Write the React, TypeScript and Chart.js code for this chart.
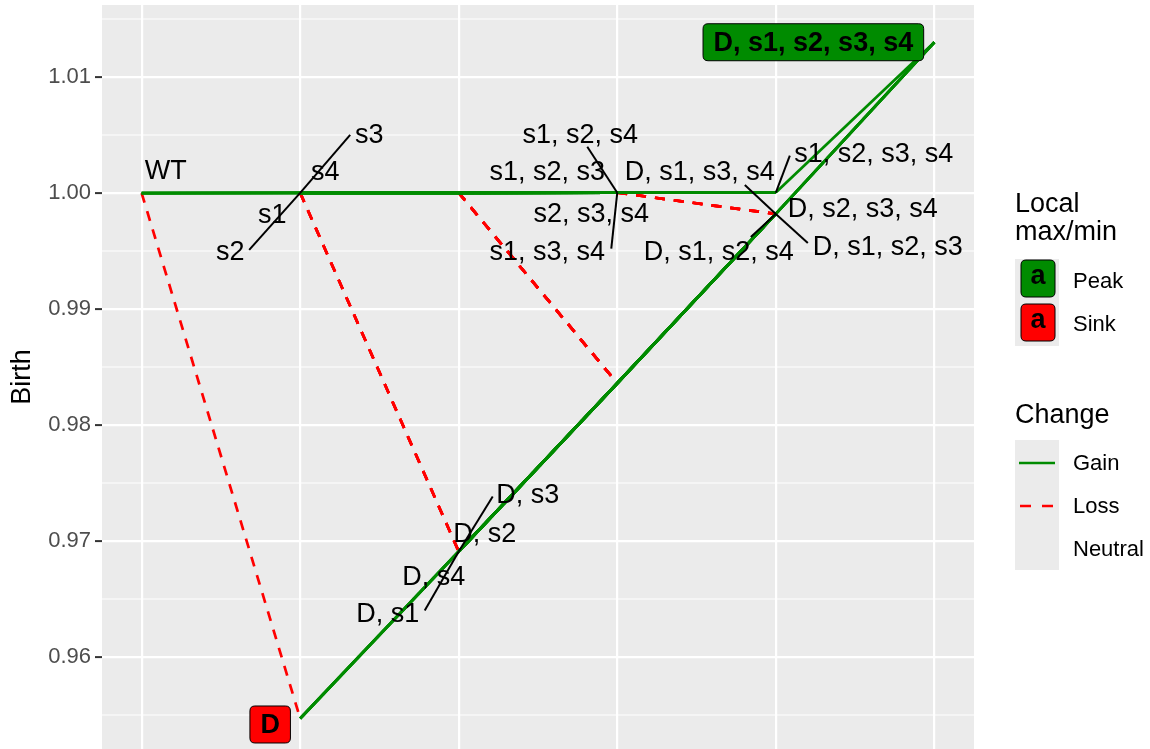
import { useEffect, useRef } from 'react';
import { Chart, registerables } from 'chart.js';

Chart.register(...registerables);

// ---------- data ----------
const GENOTYPES = [
  'WT',
  'D', 's1', 's2', 's3', 's4',
  'D, s1', 'D, s2', 'D, s3', 'D, s4',
  's1, s2', 's1, s3', 's1, s4', 's2, s3', 's2, s4', 's3, s4',
  'D, s1, s2', 'D, s1, s3', 'D, s1, s4', 'D, s2, s3', 'D, s2, s4', 'D, s3, s4',
  's1, s2, s3', 's1, s2, s4', 's1, s3, s4', 's2, s3, s4',
  'D, s1, s2, s3', 'D, s1, s2, s4', 'D, s1, s3, s4', 'D, s2, s3, s4',
  's1, s2, s3, s4',
  'D, s1, s2, s3, s4',
];

const BIRTH = [
  1.0,
  0.9547, 1.00001, 1.00001, 1.00001, 1.00001,
  0.9691, 0.9691, 0.9691, 0.9691,
  1.00002, 1.00002, 1.00002, 1.00002, 1.00002, 1.00002,
  0.9836, 0.9836, 0.9836, 0.9836, 0.9836, 0.9836,
  1.00003, 1.00003, 1.00003, 1.00003,
  0.9982, 0.9982, 0.9982, 0.9982,
  1.00004,
  1.013,
];

const PEAKS = ['D, s1, s2, s3, s4'];
const SINKS = ['D'];

const Y_TICKS = [0.96, 0.97, 0.98, 0.99, 1.0, 1.01];
const Y_MINOR = [0.955, 0.965, 0.975, 0.985, 0.995, 1.005, 1.015];
const X_TICKS = [0, 1, 2, 3, 4, 5];
const Y_MIN = 0.95207;
const Y_MAX = 1.01621;
const X_MIN = -0.25;
const X_MAX = 5.25;

// ---------- layout of repelled labels (pixel offsets from the point) ----------
const LABEL_LAYOUT: Record<string, { dx: number; dy: number; sx?: number; sy?: number }> = {
  'WT': { dx: 24, dy: -22 },
  'D': { dx: -30, dy: 6 },
  's1': { dx: -28, dy: 22 },
  's2': { dx: -70, dy: 59, sx: -51, sy: 57 },
  's3': { dx: 69, dy: -58, sx: 50, sy: -58 },
  's4': { dx: 25, dy: -21 },
  'D, s1': { dx: -71, dy: 62, sx: -34, sy: 59 },
  'D, s2': { dx: 26, dy: -18 },
  'D, s3': { dx: 69, dy: -57, sx: 34, sy: -55 },
  'D, s4': { dx: -25, dy: 25 },
  's1, s2, s3': { dx: -70, dy: -21 },
  's1, s2, s4': { dx: -37, dy: -58, sx: -30, sy: -46 },
  's1, s3, s4': { dx: -70, dy: 59, sx: -6, sy: 56 },
  's2, s3, s4': { dx: -26, dy: 21 },
  'D, s1, s2, s3': { dx: 112, dy: 33, sx: 32, sy: 29 },
  'D, s1, s2, s4': { dx: -57, dy: 38, sx: -25, sy: 23 },
  'D, s1, s3, s4': { dx: -76, dy: -42, sx: -31, sy: -29 },
  'D, s2, s3, s4': { dx: 87, dy: -5 },
  's1, s2, s3, s4': { dx: 98, dy: -39, sx: 14, sy: -37 },
  'D, s1, s2, s3, s4': { dx: -121, dy: 0 },
};

const GREEN = '#008B00';
const RED = '#FF0000';
const FONT = '"Liberation Sans", Arial, Helvetica, sans-serif';

const genesOf = (g: string) => (g === 'WT' ? [] : g.split(', '));

function buildEdges() {
  const edges: { from: number; to: number; change: string }[] = [];
  for (let i = 0; i < GENOTYPES.length; i++) {
    const a = genesOf(GENOTYPES[i]);
    for (let j = 0; j < GENOTYPES.length; j++) {
      const b = genesOf(GENOTYPES[j]);
      if (b.length !== a.length + 1) continue;
      if (!a.every((g) => b.includes(g))) continue;
      const d = BIRTH[j] - BIRTH[i];
      edges.push({ from: i, to: j, change: d > 0 ? 'Gain' : d < 0 ? 'Loss' : 'Neutral' });
    }
  }
  return edges;
}

function roundRect(ctx: CanvasRenderingContext2D, x: number, y: number, w: number, h: number, r: number) {
  ctx.beginPath();
  ctx.moveTo(x + r, y);
  ctx.lineTo(x + w - r, y);
  ctx.quadraticCurveTo(x + w, y, x + w, y + r);
  ctx.lineTo(x + w, y + h - r);
  ctx.quadraticCurveTo(x + w, y + h, x + w - r, y + h);
  ctx.lineTo(x + r, y + h);
  ctx.quadraticCurveTo(x, y + h, x, y + h - r);
  ctx.lineTo(x, y + r);
  ctx.quadraticCurveTo(x, y, x + r, y);
  ctx.closePath();
}

const panelPlugin = {
  id: 'panelBg',
  beforeDraw(chart: any) {
    const { ctx, chartArea: a, scales } = chart;
    const y = scales.y;
    ctx.save();
    ctx.fillStyle = '#EBEBEB';
    ctx.fillRect(a.left, a.top, a.right - a.left, a.bottom - a.top);
    ctx.strokeStyle = '#FFFFFF';
    ctx.lineWidth = 1.1;
    for (const v of Y_MINOR) {
      const py = y.getPixelForValue(v);
      ctx.beginPath();
      ctx.moveTo(a.left, py);
      ctx.lineTo(a.right, py);
      ctx.stroke();
    }
    ctx.restore();
  },
};

const labelPlugin = {
  id: 'repelLabels',
  afterDraw(chart: any) {
    const { ctx, scales } = chart;
    const xs = scales.x;
    const ys = scales.y;
    ctx.save();
    // segments
    ctx.strokeStyle = '#000000';
    ctx.lineWidth = 2;
    GENOTYPES.forEach((g, i) => {
      const L = LABEL_LAYOUT[g];
      if (!L || L.sx === undefined) return;
      const px = xs.getPixelForValue(genesOf(g).length);
      const py = ys.getPixelForValue(BIRTH[i]);
      ctx.beginPath();
      ctx.moveTo(px, py);
      ctx.lineTo(px + L.sx, py + (L.sy as number));
      ctx.stroke();
    });
    // text
    ctx.textAlign = 'center';
    ctx.textBaseline = 'middle';
    GENOTYPES.forEach((g, i) => {
      const L = LABEL_LAYOUT[g];
      if (!L) return;
      const px = xs.getPixelForValue(genesOf(g).length);
      const py = ys.getPixelForValue(BIRTH[i]);
      const cx = px + L.dx;
      const cy = py + L.dy;
      const isPeak = PEAKS.includes(g);
      const isSink = SINKS.includes(g);
      if (isPeak || isSink) {
        ctx.font = `bold 27px ${FONT}`;
        const w = ctx.measureText(g).width + 21;
        const h = 37;
        roundRect(ctx, cx - w / 2, cy - h / 2, w, h, 5);
        ctx.fillStyle = isPeak ? GREEN : RED;
        ctx.fill();
        ctx.strokeStyle = '#000000';
        ctx.lineWidth = 1;
        ctx.stroke();
      } else {
        ctx.font = `27px ${FONT}`;
      }
      ctx.fillStyle = '#000000';
      ctx.fillText(g, cx, cy + 1);
    });
    ctx.restore();
  },
};

const legendPlugin = {
  id: 'ggLegend',
  afterDraw(chart: any) {
    const ctx: CanvasRenderingContext2D = chart.ctx;
    ctx.save();
    ctx.textAlign = 'left';
    ctx.textBaseline = 'middle';
    ctx.fillStyle = '#000000';
    ctx.font = `27px ${FONT}`;
    ctx.fillText('Local', 1015, 205);
    ctx.fillText('max/min', 1015, 233);

    ctx.fillStyle = '#EBEBEB';
    ctx.fillRect(1015, 259, 44, 87);
    const boxes = [
      { y: 260, fill: GREEN, label: 'Peak', ty: 282 },
      { y: 304, fill: RED, label: 'Sink', ty: 325 },
    ];
    for (const b of boxes) {
      roundRect(ctx, 1021, b.y, 34, 37, 5);
      ctx.fillStyle = b.fill;
      ctx.fill();
      ctx.strokeStyle = '#000000';
      ctx.lineWidth = 1;
      ctx.stroke();
      ctx.fillStyle = '#000000';
      ctx.font = `bold 27px ${FONT}`;
      ctx.textAlign = 'center';
      ctx.fillText('a', 1038, b.y + 17);
      ctx.textAlign = 'left';
      ctx.font = `22px ${FONT}`;
      ctx.fillText(b.label, 1073, b.ty);
    }

    ctx.font = `27px ${FONT}`;
    ctx.fillText('Change', 1015, 416);
    ctx.fillStyle = '#EBEBEB';
    ctx.fillRect(1015, 440, 44, 130);

    ctx.lineWidth = 2.7;
    ctx.strokeStyle = GREEN;
    ctx.beginPath();
    ctx.moveTo(1019, 463);
    ctx.lineTo(1055, 463);
    ctx.stroke();
    ctx.strokeStyle = RED;
    ctx.setLineDash([11, 11]);
    ctx.beginPath();
    ctx.moveTo(1020, 506);
    ctx.lineTo(1055, 506);
    ctx.stroke();
    ctx.setLineDash([]);

    ctx.fillStyle = '#000000';
    ctx.font = `22px ${FONT}`;
    ctx.fillText('Gain', 1073, 464);
    ctx.fillText('Loss', 1073, 507);
    ctx.fillText('Neutral', 1073, 550);
    ctx.restore();
  },
};

export default function App() {
  const ref = useRef<HTMLCanvasElement>(null);

  useEffect(() => {
    document.body.style.margin = '0';
    const edges = buildEdges();
    const datasets = edges
      .filter((e) => e.change !== 'Neutral')
      .map((e) => ({
        label: e.change,
        data: [
          { x: genesOf(GENOTYPES[e.from]).length, y: BIRTH[e.from] },
          { x: genesOf(GENOTYPES[e.to]).length, y: BIRTH[e.to] },
        ],
        borderColor: e.change === 'Gain' ? GREEN : RED,
        borderWidth: 2.7,
        borderDash: e.change === 'Loss' ? [10, 9] : [],
        pointRadius: 0,
        showLine: true,
        fill: false,
        tension: 0,
        order: e.change === 'Loss' ? 2 : 1,
      }));

    const chart = new Chart(ref.current as HTMLCanvasElement, {
      type: 'line',
      data: { datasets },
      options: {
        animation: false,
        responsive: false,
        devicePixelRatio: 1,
        layout: { padding: { left: 0, top: 5, right: 176, bottom: 0 } },
        plugins: {
          legend: { display: false },
          tooltip: { enabled: false },
        },
        scales: {
          x: {
            type: 'linear',
            min: X_MIN,
            max: X_MAX,
            border: { display: false },
            grid: { color: '#FFFFFF', lineWidth: 2.2, drawTicks: false },
            ticks: { display: false },
            afterBuildTicks: (s: any) => {
              s.ticks = X_TICKS.map((v) => ({ value: v }));
            },
            afterFit: (s: any) => {
              s.height = 0;
              s.paddingLeft = 0;
              s.paddingRight = 0;
            },
          },
          y: {
            type: 'linear',
            min: Y_MIN,
            max: Y_MAX,
            border: { display: false },
            grid: {
              color: '#FFFFFF',
              lineWidth: 2.2,
              drawTicks: true,
              tickLength: 7,
              tickColor: '#333333',
              tickWidth: 2,
            },
            ticks: {
              autoSkip: false,
              padding: 4,
              color: '#4D4D4D',
              font: { family: FONT, size: 22 },
              callback: (v: any) => Number(v).toFixed(2),
            },
            title: {
              display: true,
              text: 'Birth',
              color: '#000000',
              font: { family: FONT, size: 27 },
              padding: { top: 6, bottom: 0 },
            },
            afterBuildTicks: (s: any) => {
              s.ticks = Y_TICKS.map((v) => ({ value: v }));
            },
            afterFit: (s: any) => {
              s.width = 102;
              s.paddingTop = 0;
              s.paddingBottom = 0;
            },
          },
        },
      } as any,
      plugins: [panelPlugin, labelPlugin, legendPlugin],
    });
    return () => chart.destroy();
  }, []);

  return (
    <canvas
      ref={ref}
      width={1150}
      height={749}
      style={{ display: 'block', width: '1150px', height: '749px' }}
    />
  );
}
